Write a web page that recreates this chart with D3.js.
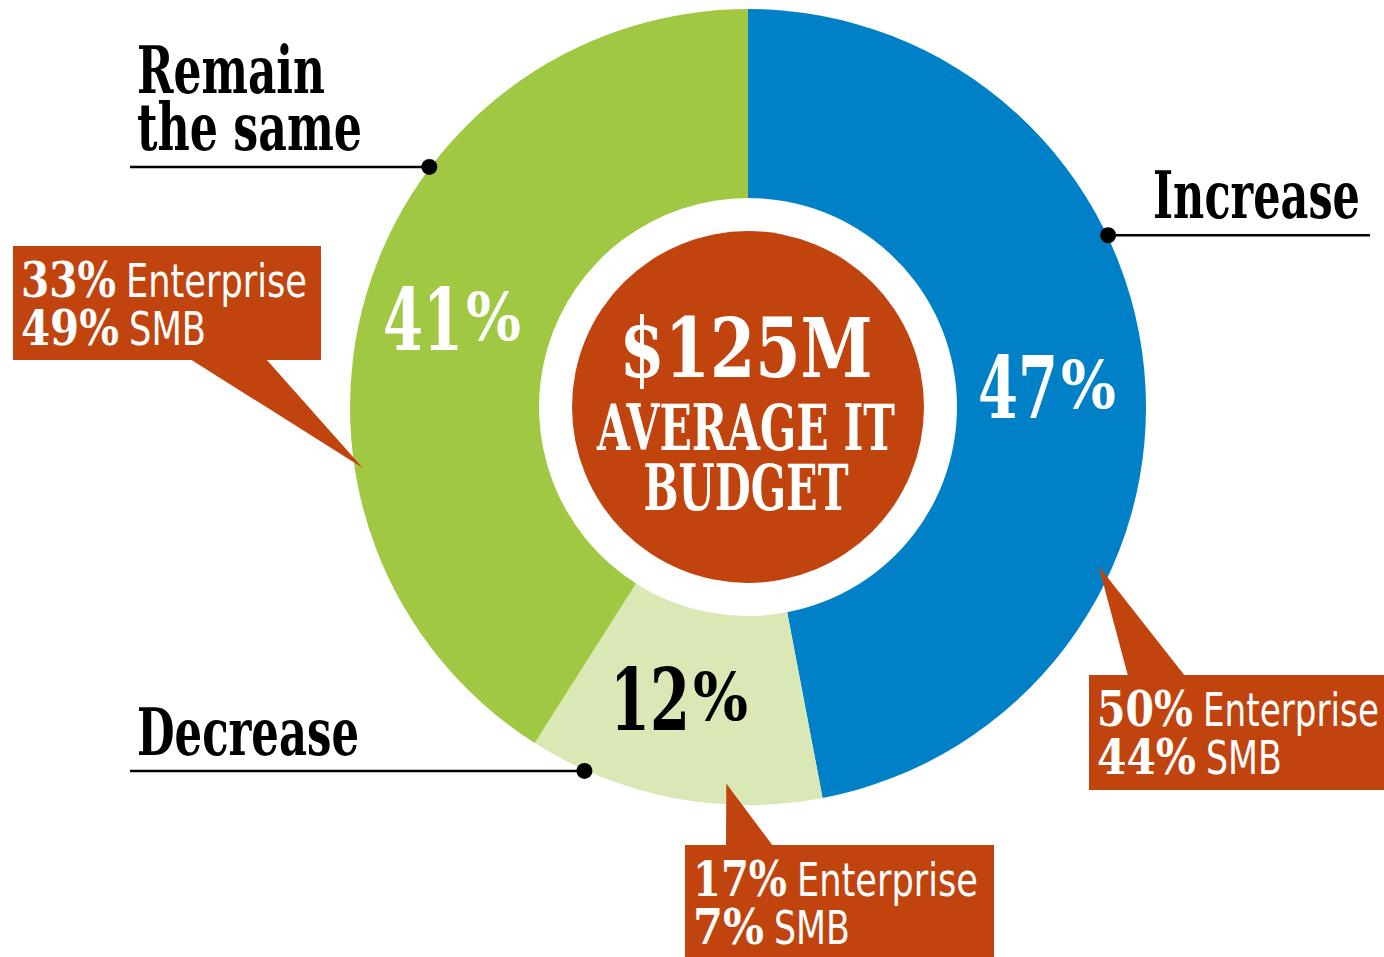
<!DOCTYPE html>
<html>
<head>
<meta charset="utf-8">
<script src="https://cdn.jsdelivr.net/npm/d3@7"></script>
<style>
  body { margin: 0; background: #fff; }
  svg { display: block; }
  .slab { font-family: "DejaVu Serif", serif; font-stretch: condensed; font-weight: bold; }
  .thin { font-family: "DejaVu Sans", sans-serif; font-stretch: condensed; font-weight: normal; }
</style>
</head>
<body>
<script>
// data
var categories = ["Increase", "Decrease", "Remain the same"];
var shares = [47, 12, 41];
var enterprise = [50, 17, 33];
var smb = [44, 7, 49];
var colors = ["#0080c6", "#d9e8b5", "#a1c843"];
var pctColors = ["#fff", "#000", "#fff"];

var width = 1384, height = 957;
var cx = 748, cy = 407;
var rOuter = 398, rInner = 209, rBadge = 176;

var svg = d3.select("body").append("svg")
    .attr("width", width)
    .attr("height", height);

var g = svg.append("g").attr("transform", "translate(" + cx + "," + cy + ")");

var pie = d3.pie().sort(null).value(function(d) { return d; });
var arc = d3.arc().innerRadius(rInner).outerRadius(rOuter);
var arcs = pie(shares);

// donut slices
g.selectAll("path.slice")
  .data(arcs)
  .enter().append("path")
  .attr("class", "slice")
  .attr("d", arc)
  .attr("fill", function(d, i) { return colors[i]; });

// center badge
g.append("circle").attr("r", rBadge).attr("fill", "#c1440e");

// condensed label: squeeze the text horizontally to width w
function label(parent, cls, x, y, size, txt, w, fill, anchor) {
  var t = parent.append("text").attr("class", cls)
    .attr("fill", fill).style("font-size", size + "px")
    .text(txt);
  var natural = t.node().getComputedTextLength();
  var k = w / natural;
  var x0 = anchor === "middle" ? x - w / 2 : x;
  t.attr("transform", "translate(" + x0 + "," + y + ") scale(" + k + ",1)");
  return t;
}

label(g, "slab", -2, -30, 82, "$125M", 253, "#fff", "middle");
label(g, "slab", -2, 43, 64, "AVERAGE IT", 298, "#fff", "middle");
label(g, "slab", -2, 103, 63, "BUDGET", 205, "#fff", "middle");

// point on the ring at angle (degrees, clockwise from top)
function polar(angleDeg, r) {
  var a = angleDeg * Math.PI / 180;
  return [r * Math.sin(a), -r * Math.cos(a)];
}

// layout for labels, in slice order
var pctPos = [[978, 418], [610, 730], [383, 350]];
var dotAngle = [64.5, 204.2, 307];
var lineEnd = [1370, 130, 130];
var catLines = [["Increase"], ["Decrease"], ["Remain", "the same"]];
var catPos = [[1153, 218, [207]], [137, 755, [222]], [137, 93, [188, 225]]];
var tipAngle = [114.4, 183.3, 261];
var tipR = [385, 377, 390];
var boxes = [
  {x: 1089, y: 675, w: 310, h: 115, base: [1128, 1185], bw: [96, 176, 99, 76]},
  {x: 685, y: 845, w: 309, h: 120, base: [726, 773], bw: [94, 181, 71, 76]},
  {x: 13, y: 246, w: 308, h: 114, base: [190, 266], bw: [95, 181, 98, 77]}
];

arcs.forEach(function(d, i) {
  // percentage in slice
  var p = pctPos[i];
  label(svg, "slab", p[0], p[1], 86, shares[i], 80, pctColors[i]);
  label(svg, "slab", p[0] + 83, p[1] - 10, 66, "%", 55, pctColors[i]);

  // leader line + dot
  var dot = polar(dotAngle[i], rOuter + 1);
  var dx = cx + dot[0], dy = cy + dot[1];
  svg.append("line")
    .attr("x1", lineEnd[i]).attr("x2", dx)
    .attr("y1", dy).attr("y2", dy)
    .attr("stroke", "#000").attr("stroke-width", 2.5);
  svg.append("circle").attr("cx", dx).attr("cy", dy).attr("r", 8).attr("fill", "#000");

  // category label
  var cp = catPos[i];
  catLines[i].forEach(function(line, j) {
    label(svg, "slab", cp[0], cp[1] + j * 57, 66, line, cp[2][j], "#000");
  });

  // callout
  var b = boxes[i];
  var tip = polar(tipAngle[i], tipR[i]);
  var tx = cx + tip[0], ty = cy + tip[1];
  var baseY = (ty < b.y) ? b.y + 1 : b.y + b.h - 1;
  svg.append("path")
    .attr("d", d3.line()([[b.base[0], baseY], [tx, ty], [b.base[1], baseY]]) + "Z")
    .attr("fill", "#c1440e");
  svg.append("rect")
    .attr("x", b.x).attr("y", b.y).attr("width", b.w).attr("height", b.h)
    .attr("fill", "#c1440e");

  var lx = b.x + 8;
  var rows = [[enterprise[i] + "%", "Enterprise"], [smb[i] + "%", "SMB"]];
  rows.forEach(function(r, j) {
    var by = b.y + 51 + j * 48;
    label(svg, "slab", lx, by, 48, r[0], b.bw[j * 2], "#fff");
    label(svg, "thin", lx + b.bw[j * 2] + 10, by, 47, r[1], b.bw[j * 2 + 1], "#fff");
  });
});
</script>
</body>
</html>
